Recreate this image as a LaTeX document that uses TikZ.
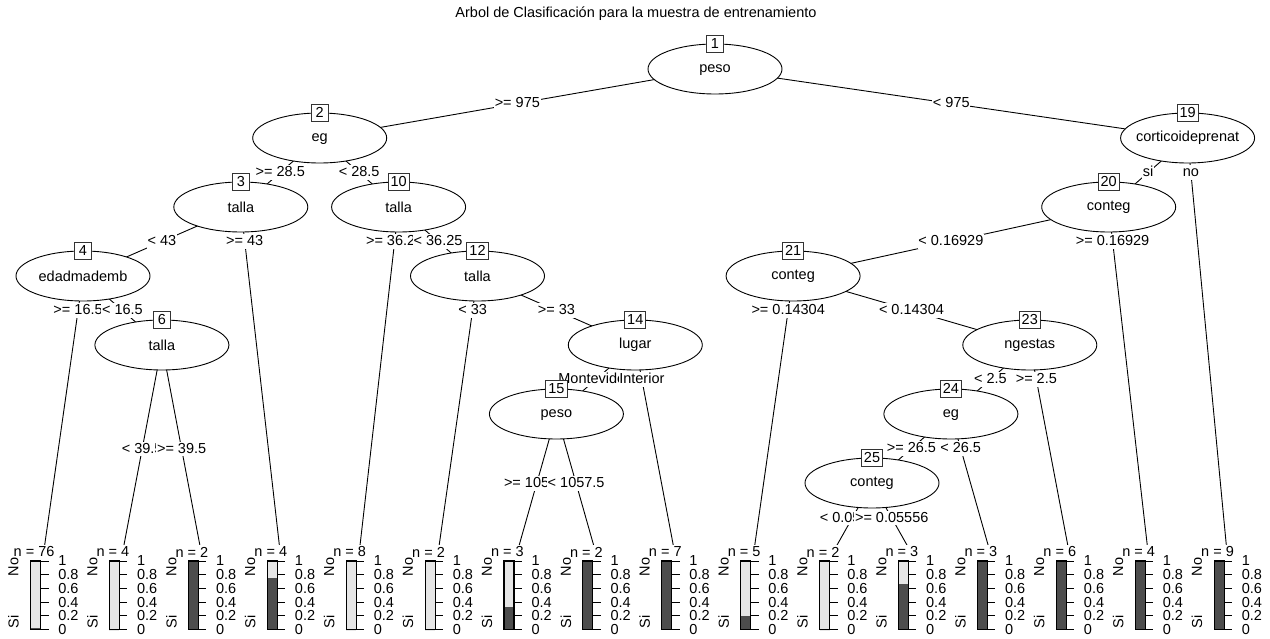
\documentclass[tikz,border=0pt]{standalone}
\usepackage{fontspec}
\setmainfont{Liberation Sans}
\usetikzlibrary{shapes.geometric}
\pgfdeclarelayer{bg}
\pgfdeclarelayer{panel}
\pgfdeclarelayer{fg}
\pgfsetlayers{bg,panel,main,fg}
\definecolor{lightbar}{HTML}{E6E6E6}
\definecolor{darkbar}{HTML}{4D4D4D}
\newcommand\treeedge[4]{%
  \begin{pgfonlayer}{bg}\draw[edgeline] (#1) -- (#2);\end{pgfonlayer}%
  \path (#1) -- (#2) node[elab,pos=#3]{#4};}
\begin{document}
\begin{tikzpicture}[x=1pt,y=-1pt,
  every node/.style={font=\fontsize{14.5pt}{16pt}\selectfont},
  splitnode/.style={ellipse, draw, fill=white, line width=0.9pt, minimum width=134pt, minimum height=50pt, inner sep=0pt},
  numbox/.style={draw=black!80, fill=white, line width=0.9pt, minimum width=17pt, minimum height=17pt, inner sep=2.5pt, text height=10pt, text depth=0pt},
  elab/.style={fill=white, inner xsep=0.6pt, inner ysep=1.2pt, text height=10.5pt, text depth=2pt},
  edgeline/.style={line width=0.9pt},
  tick/.style={line width=0.8pt}]
\useasboundingbox (0,0) rectangle (1270,639);

\node (title) at (636,14) {Arbol de Clasificación para la muestra de entrenamiento};

\begin{pgfonlayer}{fg}
\foreach \nm/\x/\y/\txt in {1/715/69/peso, 2/319.7/138/eg, 3/240.8/207/talla, 4/83/276/edadmademb,
  6/161.9/345/talla, 10/398.6/207/talla, 12/477.5/276/talla, 14/635.3/345/lugar, 15/556.4/414/peso,
  19/1187.6/138/corticoideprenat, 20/1108.7/207/conteg, 21/793.1/276/conteg, 23/1029.8/345/ngestas,
  24/950.9/414/eg, 25/872/483/conteg}{
  \node[splitnode] (n\nm) at (\x,\y) {\makebox[0pt]{\rule{0pt}{10pt}\txt}};
  \node[numbox] (b\nm) at (n\nm.north) {\nm};
}
\end{pgfonlayer}

\foreach \i/\n/\p in {1/76/0.026, 2/4/0, 3/2/1, 4/4/0.75, 5/8/0, 6/2/0, 7/3/0.3333, 8/2/1,
  9/7/1, 10/5/0.2, 11/2/0, 12/3/0.6667, 13/3/1, 14/6/1, 15/4/1, 16/9/1}{
  \pgfmathsetmacro\xt{43.55+78.9*(\i-1)}
  \coordinate (t\i) at (\xt,553);
  \begin{pgfonlayer}{panel}
    \fill[white] (\xt-39.4,545) rectangle (\xt+39.4,639);
  \end{pgfonlayer}
  \node (nl\i) at (\xt-9.5,552) {n = \n};
  \fill[lightbar] (\xt-13,561) rectangle (\xt-3,629.5);
  \fill[darkbar] (\xt-13,629.5) rectangle (\xt-3,629.5-68.5*\p);
  \draw[line width=1.1pt] (\xt-13,561) rectangle (\xt-3,629.5);
  \node[rotate=90, inner sep=0pt] (no\i) at (\xt-30,567) {No};
  \node[rotate=90, inner sep=0pt] (si\i) at (\xt-30,622) {Si};
  \foreach \v in {0,0.2,0.4,0.6,0.8,1}{
    \draw[tick] (\xt-3,629.5-68.5*\v) -- (\xt+5,629.5-68.5*\v);
    \node[anchor=west, inner sep=0pt] at (\xt+14.5,629.5-68.5*\v) {\v};
  }
}

\treeedge{n1.center}{n2.center}{0.5}{>= 975}
\treeedge{n1.center}{n19.center}{0.5}{< 975}
\treeedge{n2.center}{n3.center}{0.5}{>= 28.5}
\treeedge{n2.center}{n10.center}{0.5}{< 28.5}
\treeedge{n3.center}{n4.center}{0.5}{< 43}
\treeedge{n3.center}{t4}{0.0997}{>= 43}
\treeedge{n4.center}{t1}{0.1245}{>= 16.5}
\treeedge{n4.center}{n6.center}{0.5}{< 16.5}
\treeedge{n6.center}{t2}{0.5}{< 39.5}
\treeedge{n6.center}{t3}{0.5}{>= 39.5}
\treeedge{n10.center}{t5}{0.0997}{>= 36.25}
\treeedge{n10.center}{n12.center}{0.5}{< 36.25}
\treeedge{n12.center}{t6}{0.1245}{< 33}
\treeedge{n12.center}{n14.center}{0.5}{>= 33}
\treeedge{n14.center}{n15.center}{0.5}{Montevideo}
\treeedge{n14.center}{t9}{0.1659}{Interior}
\treeedge{n15.center}{t7}{0.5}{>= 1057.5}
\treeedge{n15.center}{t8}{0.5}{< 1057.5}
\treeedge{n19.center}{n20.center}{0.5}{si}
\treeedge{n19.center}{t16}{0.0831}{no}
\treeedge{n20.center}{n21.center}{0.5}{< 0.16929}
\treeedge{n20.center}{t15}{0.0997}{>= 0.16929}
\treeedge{n21.center}{t10}{0.1245}{>= 0.14304}
\treeedge{n21.center}{n23.center}{0.5}{< 0.14304}
\treeedge{n23.center}{n24.center}{0.5}{< 2.5}
\treeedge{n23.center}{t14}{0.1659}{>= 2.5}
\treeedge{n24.center}{n25.center}{0.5}{>= 26.5}
\treeedge{n24.center}{t13}{0.2482}{< 26.5}
\treeedge{n25.center}{t11}{0.5}{< 0.05556}
\treeedge{n25.center}{t12}{0.5}{>= 0.05556}
\end{tikzpicture}
\end{document}
